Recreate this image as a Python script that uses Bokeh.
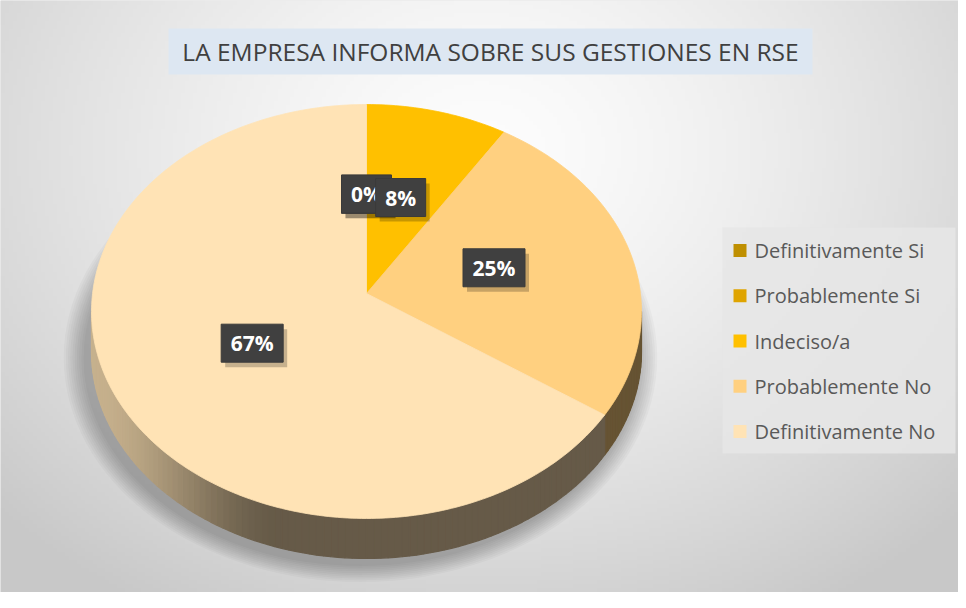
import numpy as np
from bokeh.plotting import figure
from bokeh.models import Range1d
from bokeh.core.properties import value
from bokeh.embed import file_html
from bokeh.resources import INLINE

# ---------------- data ----------------
categories = ["Definitivamente Si", "Probablemente Si", "Indeciso/a",
              "Probablemente No", "Definitivamente No"]
counts = [0, 0, 1, 3, 8]
colors = ["#BF8F00", "#DFA400", "#FFC000", "#FFD080", "#FFE3B5"]
title = "LA EMPRESA INFORMA SOBRE SUS GESTIONES EN RSE"

# ---------------- layout (pixels from the figure's top-left) ----------------
W, H = 958, 592
TOP = H


def Y(y):
    return TOP - np.asarray(y, dtype=float)


p = figure(width=W, height=H, x_range=Range1d(0, W), y_range=Range1d(0, H),
           output_backend="svg", toolbar_location=None, min_border=0,
           x_axis_location=None, y_axis_location=None)
p.grid.visible = False
p.outline_line_color = None
p.background_fill_color = "#dadada"
p.border_fill_color = "white"

# ---------------- background radial gradient ----------------
rows, cols = H // 4, W // 4
yy, xx = np.mgrid[0:rows, 0:cols]
px = (xx + 0.5) * 4
py = TOP - (yy + 0.5) * 4
d = np.sqrt(((px - 480) / 600.0) ** 2 + ((py - 150) / 480.0) ** 2)
g = (253 - 46 * np.clip(d, 0, 1.1) ** 1.4).astype(np.uint8)
img = np.empty((rows, cols), dtype=np.uint32)
view = img.view(dtype=np.uint8).reshape((rows, cols, 4))
view[:, :, 0] = g
view[:, :, 1] = g
view[:, :, 2] = g
view[:, :, 3] = 255
p.image_rgba(image=[img], x=0, y=0, dw=W, dh=H)

# ---------------- pie geometry ----------------
cx, cy = 366.0, 311.0    # ellipse centre (px)
rx, ry = 275.0, 207.0
ax_, ay_ = 366.0, 293.0  # apex where slices meet
depth = 40.0

total = float(sum(counts))
fracs = [c / total for c in counts]
starts = np.cumsum([0.0] + fracs[:-1]) * 360.0
ends = starts + np.array(fracs) * 360.0


def ell(theta_deg, dy=0.0):
    t = np.radians(theta_deg)
    return cx + rx * np.sin(t), cy - ry * np.cos(t) + dy


# shadow
for k in range(10):
    s = 2 + 2.2 * k
    p.ellipse(x=cx - 6, y=Y(cy + depth + 6), width=2 * (rx + s), height=2 * (ry + s * 0.8),
              fill_color="black", fill_alpha=0.028, line_color=None)


def hexrgb(h):
    h = h.lstrip("#")
    return [int(h[i:i + 2], 16) for i in (0, 2, 4)]


def shade_factor(x):
    t = np.clip((x - (cx - rx)) / 190.0, 0, 1)
    t = t * t * (3 - 2 * t)
    return 0.78 - 0.38 * t


# side strips (visible lower half: theta 90..270)
sx, sy, sc = [], [], []
for i in range(len(counts)):
    if fracs[i] <= 0:
        continue
    a0, a1 = max(starts[i], 90.0), min(ends[i], 270.0)
    if a1 <= a0:
        continue
    n = max(2, int((a1 - a0) / 1.5))
    th = np.linspace(a0, a1, n + 1)
    base = hexrgb(colors[i])
    for j in range(n):
        x0, y0 = ell(th[j])
        x1, y1 = ell(th[j + 1])
        f = shade_factor((x0 + x1) / 2)
        col = "#%02x%02x%02x" % tuple(int(c * f) for c in base)
        sx.append([x0, x1, x1, x0])
        sy.append(list(Y([y0, y1, y1 + depth, y0 + depth])))
        sc.append(col)
p.patches(xs=sx, ys=sy, fill_color=sc, line_color=sc, line_width=1.2)

# top face slices
for i in range(len(counts)):
    if fracs[i] <= 0:
        continue
    th = np.linspace(starts[i], ends[i], max(3, int(ends[i] - starts[i]) + 1))
    ex, ey = ell(th)
    xs = np.concatenate([[ax_], ex])
    ys = np.concatenate([[ay_], ey])
    p.patch(x=xs, y=Y(ys), fill_color=colors[i], line_color=colors[i], line_width=0.8)

# data labels
for i in range(len(counts)):
    mid = np.radians((starts[i] + ends[i]) / 2.0)
    lx = ax_ + 0.48 * rx * np.sin(mid)
    ly = ay_ - 0.48 * ry * np.cos(mid)
    txt = "%d%%" % round(100 * fracs[i])
    bw = 26 + 12 * len(txt)
    bh = 38
    p.rect(x=lx + 4, y=Y(ly + 5), width=bw, height=bh, fill_color="black",
           fill_alpha=0.22, line_color=None)
    p.rect(x=lx, y=Y(ly), width=bw, height=bh, fill_color="#404040", line_color="#3a3a3a")
    p.text(x=[lx], y=[float(Y(ly))], text=[txt], text_font=value("Open Sans"),
           text_font_style="bold", text_font_size="21px", text_color="white",
           text_align="center", text_baseline="middle")

# title
p.rect(x=490, y=Y(51), width=644, height=46, fill_color="#DDE7F2", line_color=None)
p.text(x=[490], y=[float(Y(51))], text=[title], text_font=value("Open Sans"),
       text_font_size="24.5px", text_color="#404040",
       text_align="center", text_baseline="middle")

# legend
p.rect(x=838.5, y=Y(340), width=233, height=226, fill_color="#e6e6e6",
       fill_alpha=0.85, line_color=None)
ly_items = [250 + 45.25 * i for i in range(len(categories))]
p.rect(x=[739.5] * len(categories), y=list(Y(ly_items)), width=13, height=13,
       fill_color=colors, line_color=None)
p.text(x=[754] * len(categories), y=list(Y(ly_items)), text=categories,
       text_font=value("Open Sans"), text_font_size="20px", text_color="#595959",
       text_align="left", text_baseline="middle")

open("out.html", "w").write(file_html(p, INLINE))
